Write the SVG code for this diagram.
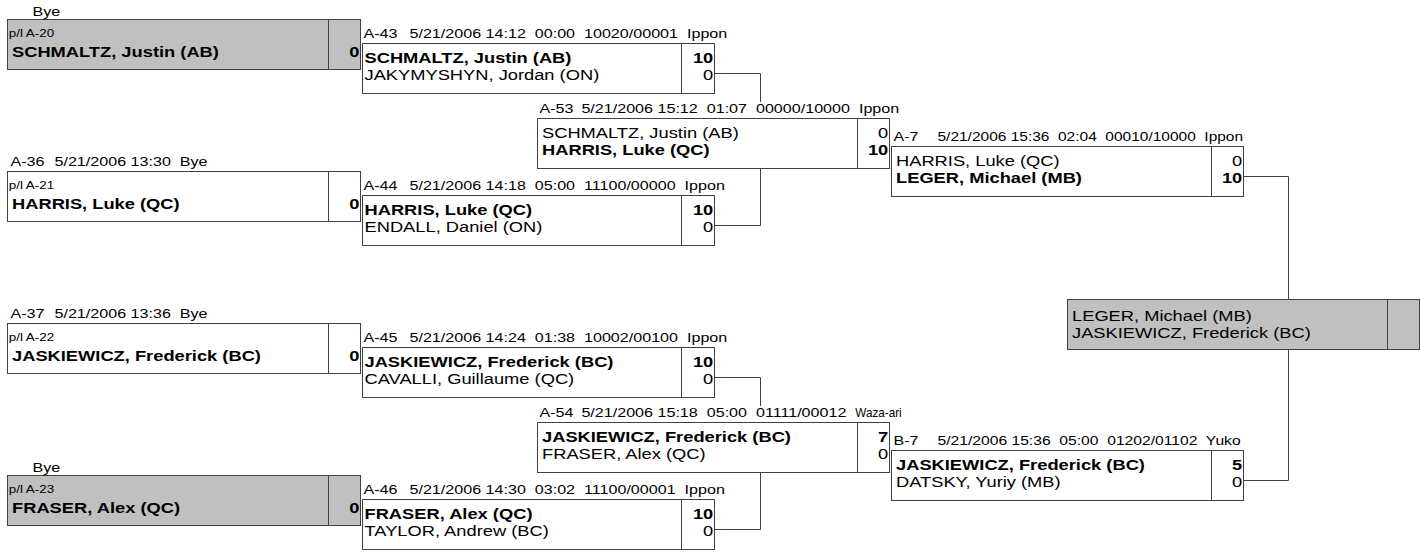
<svg xmlns="http://www.w3.org/2000/svg" width="1420" height="555" viewBox="0 0 1420 555">
<style>
.box{fill:#ffffff;stroke:#404040;stroke-width:1}
.gbox{fill:#c0c0c0;stroke:#404040;stroke-width:1}
.dv{stroke:#404040;stroke-width:1}
.con{fill:none;stroke:#404040;stroke-width:1}
text{font-family:"Liberation Sans",Arial,sans-serif;fill:#000000}
.h{font-size:13.2px}
.n{font-size:15px}
.pl{font-size:11px}
.b{font-weight:bold}
.s{text-anchor:end}
</style>
<rect x="0" y="0" width="1420" height="555" fill="#ffffff"/>
<g id="connectors">
<path class="con" d="M714.5,73.5 H760.5 V102"/>
<path class="con" d="M714.5,225.5 H760.5 V169"/>
<path class="con" d="M714.5,377.5 H760.5 V406"/>
<path class="con" d="M714.5,529.5 H760.5 V473"/>
<path class="con" d="M1243.5,176.5 H1288.5 V299"/>
<path class="con" d="M1243.5,480.5 H1288.5 V350"/>
</g>
<g id="n-A20" transform="translate(7.5,19.5)">
<rect class="gbox" x="0" y="0" width="353" height="50"/>
<line class="dv" x1="321" y1="0" x2="321" y2="50"/>
<g transform="scale(1.22,1)">
<text class="h" x="20.5" y="-4">Bye</text>
<text class="pl" x="1" y="18">p/l A-20</text>
<text class="n b" x="3.7" y="37.5">SCHMALTZ, Justin (AB)</text>
<text class="n b s" x="288.5" y="37.5">0</text>
</g>
</g>
<g id="n-A36" transform="translate(7.5,171.5)">
<rect class="box" x="0" y="0" width="353" height="50"/>
<line class="dv" x1="321" y1="0" x2="321" y2="50"/>
<g transform="scale(1.22,1)">
<text class="h" y="-5.5" xml:space="preserve"><tspan x="2.46">A-36</tspan><tspan x="38.5">5/21/2006 13:30  Bye</tspan></text>
<text class="pl" x="1" y="18">p/l A-21</text>
<text class="n b" x="3.7" y="37.5">HARRIS, Luke (QC)</text>
<text class="n b s" x="288.5" y="37.5">0</text>
</g>
</g>
<g id="n-A37" transform="translate(7.5,323.5)">
<rect class="box" x="0" y="0" width="353" height="50"/>
<line class="dv" x1="321" y1="0" x2="321" y2="50"/>
<g transform="scale(1.22,1)">
<text class="h" y="-5.5" xml:space="preserve"><tspan x="2.46">A-37</tspan><tspan x="38.5">5/21/2006 13:36  Bye</tspan></text>
<text class="pl" x="1" y="18">p/l A-22</text>
<text class="n b" x="3.7" y="37.5">JASKIEWICZ, Frederick (BC)</text>
<text class="n b s" x="288.5" y="37.5">0</text>
</g>
</g>
<g id="n-A23" transform="translate(7.5,475.5)">
<rect class="gbox" x="0" y="0" width="353" height="50"/>
<line class="dv" x1="321" y1="0" x2="321" y2="50"/>
<g transform="scale(1.22,1)">
<text class="h" x="20.5" y="-4">Bye</text>
<text class="pl" x="1" y="18">p/l A-23</text>
<text class="n b" x="3.7" y="37.5">FRASER, Alex (QC)</text>
<text class="n b s" x="288.5" y="37.5">0</text>
</g>
</g>
<g id="m-A43" transform="translate(362.5,43.5)">
<rect class="box" x="0" y="0" width="352" height="50"/>
<line class="dv" x1="319" y1="0" x2="319" y2="50"/>
<g transform="scale(1.22,1)">
<text class="h" y="-5.5" xml:space="preserve"><tspan x="0.82">A-43</tspan><tspan x="38.5">5/21/2006 14:12  00:00  10020/00001  Ippon</tspan></text>
<text class="n b" x="1.64" y="20">SCHMALTZ, Justin (AB)</text>
<text class="n b s" x="287.5" y="20">10</text>
<text class="n" x="1.64" y="37">JAKYMYSHYN, Jordan (ON)</text>
<text class="n s" x="287.5" y="37">0</text>
</g>
</g>
<g id="m-A44" transform="translate(362.5,195.5)">
<rect class="box" x="0" y="0" width="352" height="50"/>
<line class="dv" x1="319" y1="0" x2="319" y2="50"/>
<g transform="scale(1.22,1)">
<text class="h" y="-5.5" xml:space="preserve"><tspan x="0.82">A-44</tspan><tspan x="38.5">5/21/2006 14:18  05:00  11100/00000  Ippon</tspan></text>
<text class="n b" x="1.64" y="20">HARRIS, Luke (QC)</text>
<text class="n b s" x="287.5" y="20">10</text>
<text class="n" x="1.64" y="37">ENDALL, Daniel (ON)</text>
<text class="n s" x="287.5" y="37">0</text>
</g>
</g>
<g id="m-A45" transform="translate(362.5,347.5)">
<rect class="box" x="0" y="0" width="352" height="50"/>
<line class="dv" x1="319" y1="0" x2="319" y2="50"/>
<g transform="scale(1.22,1)">
<text class="h" y="-5.5" xml:space="preserve"><tspan x="0.82">A-45</tspan><tspan x="38.5">5/21/2006 14:24  01:38  10002/00100  Ippon</tspan></text>
<text class="n b" x="1.64" y="20">JASKIEWICZ, Frederick (BC)</text>
<text class="n b s" x="287.5" y="20">10</text>
<text class="n" x="1.64" y="37">CAVALLI, Guillaume (QC)</text>
<text class="n s" x="287.5" y="37">0</text>
</g>
</g>
<g id="m-A46" transform="translate(362.5,499.5)">
<rect class="box" x="0" y="0" width="352" height="50"/>
<line class="dv" x1="319" y1="0" x2="319" y2="50"/>
<g transform="scale(1.22,1)">
<text class="h" y="-5.5" xml:space="preserve"><tspan x="0.82">A-46</tspan><tspan x="38.5">5/21/2006 14:30  03:02  11100/00001  Ippon</tspan></text>
<text class="n b" x="1.64" y="20">FRASER, Alex (QC)</text>
<text class="n b s" x="287.5" y="20">10</text>
<text class="n" x="1.64" y="37">TAYLOR, Andrew (BC)</text>
<text class="n s" x="287.5" y="37">0</text>
</g>
</g>
<g id="m-A53" transform="translate(537.5,118.5)">
<rect class="box" x="0" y="0" width="352" height="50"/>
<line class="dv" x1="320" y1="0" x2="320" y2="50"/>
<g transform="scale(1.22,1)">
<text class="h" y="-5.5" xml:space="preserve"><tspan x="1.64">A-53</tspan><tspan x="36">5/21/2006 15:12  01:07  00000/10000  Ippon</tspan></text>
<text class="n" x="3.7" y="20">SCHMALTZ, Justin (AB)</text>
<text class="n s" x="287.5" y="20">0</text>
<text class="n b" x="3.7" y="37">HARRIS, Luke (QC)</text>
<text class="n b s" x="287.5" y="37">10</text>
</g>
</g>
<g id="m-A54" transform="translate(537.5,422.5)">
<rect class="box" x="0" y="0" width="352" height="50"/>
<line class="dv" x1="320" y1="0" x2="320" y2="50"/>
<g transform="scale(1.22,1)">
<text class="h" y="-5.5" xml:space="preserve"><tspan x="1.64">A-54</tspan><tspan x="36">5/21/2006 15:18  05:00  01111/00012  </tspan><tspan textLength="38" lengthAdjust="spacingAndGlyphs">Waza-ari</tspan></text>
<text class="n b" x="3.7" y="20">JASKIEWICZ, Frederick (BC)</text>
<text class="n b s" x="287.5" y="20">7</text>
<text class="n" x="3.7" y="37">FRASER, Alex (QC)</text>
<text class="n s" x="287.5" y="37">0</text>
</g>
</g>
<g id="m-A7" transform="translate(891.5,146.5)">
<rect class="box" x="0" y="0" width="352" height="50"/>
<line class="dv" x1="320" y1="0" x2="320" y2="50"/>
<g transform="scale(1.22,1)">
<text class="h" y="-5.5" xml:space="preserve"><tspan x="1.64">A-7</tspan><tspan x="37.7" textLength="250.5" lengthAdjust="spacingAndGlyphs">5/21/2006 15:36  02:04  00010/10000  Ippon</tspan></text>
<text class="n" x="3.7" y="20">HARRIS, Luke (QC)</text>
<text class="n s" x="287.5" y="20">0</text>
<text class="n b" x="3.7" y="37">LEGER, Michael (MB)</text>
<text class="n b s" x="287.5" y="37">10</text>
</g>
</g>
<g id="m-B7" transform="translate(891.5,450.5)">
<rect class="box" x="0" y="0" width="352" height="50"/>
<line class="dv" x1="320" y1="0" x2="320" y2="50"/>
<g transform="scale(1.22,1)">
<text class="h" y="-5.5" xml:space="preserve"><tspan x="1.64">B-7</tspan><tspan x="37.7" textLength="248.5" lengthAdjust="spacingAndGlyphs">5/21/2006 15:36  05:00  01202/01102  Yuko</tspan></text>
<text class="n b" x="3.7" y="20">JASKIEWICZ, Frederick (BC)</text>
<text class="n b s" x="287.5" y="20">5</text>
<text class="n" x="3.7" y="37">DATSKY, Yuriy (MB)</text>
<text class="n s" x="287.5" y="37">0</text>
</g>
</g>
<g id="final" transform="translate(1067.5,299.5)">
<rect class="gbox" x="0" y="0" width="352" height="50"/>
<line class="dv" x1="320" y1="0" x2="320" y2="50"/>
<g transform="scale(1.22,1)">
<text class="n" x="3.7" y="21.5">LEGER, Michael (MB)</text>
<text class="n" x="3.7" y="38.5">JASKIEWICZ, Frederick (BC)</text>
</g>
</g>
</svg>
